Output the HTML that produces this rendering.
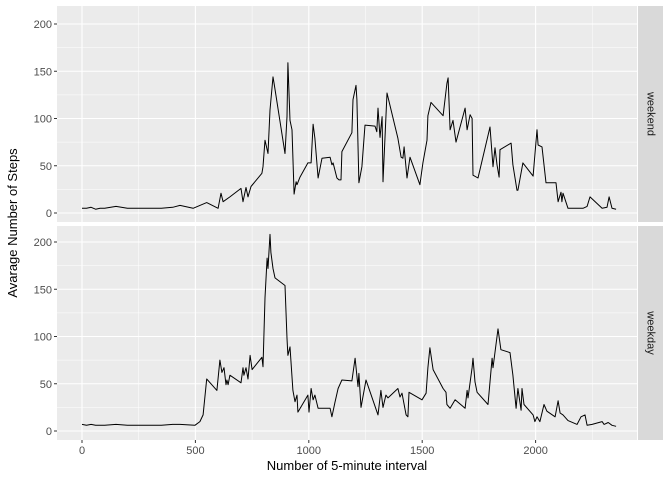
<!DOCTYPE html>
<html><head><meta charset="utf-8"><style>
body{margin:0;background:#fff}
svg{display:block;font-family:"Liberation Sans",sans-serif}
</style></head><body>
<svg id="c" width="672" height="480"></svg>
<script>
const weekendX=[0,20,40,60,80,100,150,200,250,300,350,400,432,490,520,550,600,613,622,652,701,710,723,732,745,793,798,807,820,829,842,847,895,904,908,917,926,935,944,948,961,996,1010,1019,1027,1041,1058,1094,1102,1107,1124,1133,1142,1146,1190,1195,1208,1212,1221,1234,1248,1292,1300,1305,1314,1323,1327,1345,1393,1407,1415,1420,1433,1446,1490,1503,1521,1525,1539,1592,1609,1614,1623,1636,1649,1689,1698,1711,1720,1724,1746,1799,1812,1821,1830,1839,1843,1892,1900,1918,1922,1944,1989,2006,2011,2028,2046,2090,2099,2112,2116,2121,2143,2209,2227,2240,2293,2315,2324,2337,2355];
const weekendY=[5,5,6,4,5,5,7,5,5,5,5,6,8,5,8,11,5,21,12,17,26,12,27,17,28,42,49,77,63,109,144,137,63,102,159,98,88,20,33,30,38,53,53,94,79,37,58,59,51,53,37,35,35,65,85,120,135,120,32,49,93,92,86,111,80,102,33,127,79,59,58,70,37,59,30,53,77,103,117,103,137,143,88,98,75,111,88,104,100,40,37,91,49,69,51,38,67,74,51,24,24,53,39,88,72,70,32,32,12,22,12,21,5,5,7,17,5,6,17,5,4];
const weekdayX=[0,20,40,60,80,100,150,200,250,300,350,400,432,498,520,534,550,595,608,617,626,635,639,644,652,701,710,714,723,732,741,750,793,798,807,816,820,829,833,842,851,895,904,908,917,930,939,948,952,996,1001,1010,1019,1027,1041,1094,1102,1115,1129,1146,1190,1204,1217,1221,1230,1252,1305,1318,1327,1340,1349,1393,1402,1411,1429,1437,1442,1499,1517,1525,1534,1548,1592,1605,1609,1623,1645,1689,1698,1702,1720,1724,1733,1742,1790,1808,1812,1834,1847,1887,1900,1914,1922,1936,1940,1949,1989,1997,2006,2019,2037,2050,2086,2099,2108,2121,2143,2183,2200,2218,2227,2249,2293,2302,2320,2337,2355];
const weekdayY=[7,6,7,6,6,6,7,6,6,6,6,7,7,6,10,17,55,43,75,62,67,49,54,49,59,51,67,59,67,55,80,65,78,68,141,183,172,208,189,172,162,154,98,80,89,43,31,38,20,38,20,45,33,38,24,24,15,30,45,54,53,77,47,61,25,54,17,43,25,38,35,45,36,40,17,15,41,33,40,67,88,65,45,41,28,24,33,24,43,35,67,77,52,41,28,77,67,108,86,83,59,24,45,22,45,28,17,10,15,10,28,21,15,32,19,17,11,7,15,17,6,7,10,7,9,6,5];
const xTicks=[0,500,1000,1500,2000];
const yTicks=[0,50,100,150,200];
const facets=["weekend","weekday"];

const NS="http://www.w3.org/2000/svg";
const svg=document.getElementById('c');
function mk(t,a,p){const e=document.createElementNS(NS,t);for(const k in a)e.setAttribute(k,a[k]);(p||svg).appendChild(e);return e;}
const PL=57,PR=637,SL=638,SR=663;
const panels=[{top:6,bot:222,zero:213},{top:226,bot:440,zero:431}];
const xs=d=>82+d*0.2268;
const K=0.945;
const series=[[weekendX,weekendY],[weekdayX,weekdayY]];
panels.forEach((p,i)=>{
  const ys=v=>p.zero-v*K;
  const g=mk('g',{});
  
  
  const bg=mk('rect',{x:PL,y:p.top,width:PR-PL,height:p.bot-p.top,fill:'#ebebeb'},g);
  
  
  for(let v=25;v<=225;v+=50){const y=ys(v);if(y>p.top&&y<p.bot){const l=mk('line',{x1:PL,x2:PR,y1:y,y2:y,stroke:'#fff','stroke-width':0.5},g);}}
  for(let d=-250;d<=2750;d+=500){const x=xs(d);if(x>PL&&x<PR){const l=mk('line',{x1:x,x2:x,y1:p.top,y2:p.bot,stroke:'#fff','stroke-width':0.5},g);}}
  yTicks.forEach(v=>{const y=ys(v);const l=mk('line',{x1:PL,x2:PR,y1:y,y2:y,stroke:'#fff','stroke-width':1.1},g);
    const tk=mk('line',{x1:PL-3,x2:PL,y1:y,y2:y,stroke:'#333','stroke-width':1},g);
    const t=mk('text',{x:PL-5,y:y+4,'text-anchor':'end','font-size':11,fill:'#4d4d4d'},g);t.textContent=v;});
  xTicks.forEach(d=>{const x=xs(d);const l=mk('line',{x1:x,x2:x,y1:p.top,y2:p.bot,stroke:'#fff','stroke-width':1.1},g);});
  const X=series[i][0],Y=series[i][1];
  const pts=X.map((d,j)=>xs(d).toFixed(1)+','+ys(Y[j]).toFixed(1)).join(' ');
  const pl=mk('polyline',{points:pts,fill:'none',stroke:'#000','stroke-width':1,'stroke-linejoin':'round'},g);
  
  
  const st=mk('rect',{x:SL,y:p.top,width:SR-SL,height:p.bot-p.top,fill:'#d9d9d9'},g);
  
  
  const cy=(p.top+p.bot)/2,cx=(SL+SR)/2;
  const t=mk('text',{x:cx,y:cy,'text-anchor':'middle','font-size':11,fill:'#1a1a1a',transform:`rotate(90 ${cx} ${cy})`,'dominant-baseline':'central'},g);
  t.textContent=facets[i];
  
  
});
xTicks.forEach(d=>{const x=xs(d);
  const tk=mk('line',{x1:x,x2:x,y1:440,y2:443,stroke:'#333','stroke-width':1});
  const t=mk('text',{x:x,y:454,'text-anchor':'middle','font-size':11,fill:'#4d4d4d'});t.textContent=d;});
const xt=mk('text',{x:347,y:470,'text-anchor':'middle','font-size':13,fill:'#000'});
xt.textContent='Number of 5-minute interval';


const yt=mk('text',{x:17,y:223,'text-anchor':'middle','font-size':13,fill:'#000',transform:'rotate(-90 17 223)'});
yt.textContent='Avarage Number of Steps';


</script>
</body></html>
